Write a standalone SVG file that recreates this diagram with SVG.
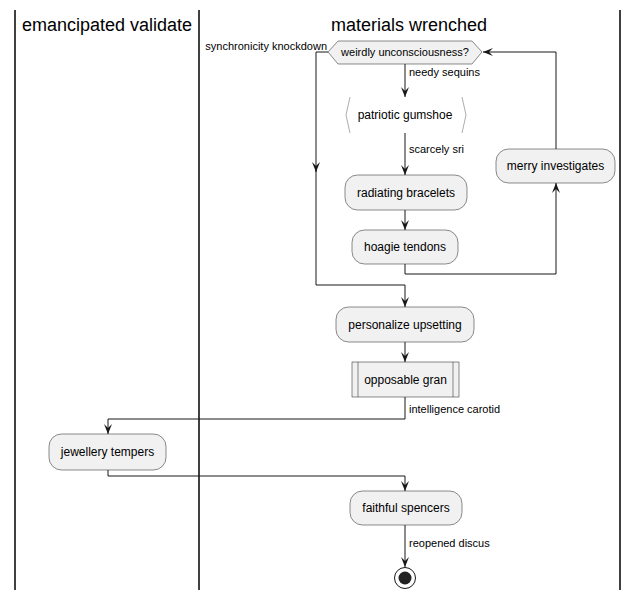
<svg xmlns="http://www.w3.org/2000/svg" width="637" height="600" viewBox="0 0 637 600">
<style>
.lane{stroke:#000;stroke-width:1.5;fill:none}
.title{font-family:"Liberation Sans",Arial,sans-serif;font-size:18px;fill:#000}
.box{fill:#F1F1F1;stroke:#181818;stroke-width:0.5}
.t{font-family:"Liberation Sans",Arial,sans-serif;font-size:12px;fill:#000;text-anchor:middle}
.lbl{font-family:"Liberation Sans",Arial,sans-serif;font-size:11px;fill:#000}
.c{stroke:#181818;stroke-width:1;fill:none}
</style>
<defs>
<marker id="ah" markerUnits="userSpaceOnUse" markerWidth="12" markerHeight="10" refX="10" refY="4" orient="auto">
<path d="M0,0 L10,4 L0,8 L4,4 Z" fill="#181818"/>
</marker>
</defs>
<rect width="637" height="600" fill="#fff"/>
<g id="lanes">
<line class="lane" x1="15" y1="10" x2="15" y2="590"/>
<line class="lane" x1="199" y1="10" x2="199" y2="590"/>
<line class="lane" x1="620" y1="10" x2="620" y2="590"/>
<text class="title" x="107" y="31" text-anchor="middle">emancipated validate</text>
<text class="title" x="409" y="31" text-anchor="middle">materials wrenched</text>
</g>
<g id="connectors">
<path class="c" d="M405,64 L405,97" marker-end="url(#ah)"/>
<path class="c" d="M405,133 L405,175" marker-end="url(#ah)"/>
<path class="c" d="M405,210 L405,230" marker-end="url(#ah)"/>
<path class="c" d="M405,264 L405,274 L556,274 L556,183" marker-end="url(#ah)"/>
<path class="c" d="M556,149 L556,52 L483,52" marker-end="url(#ah)"/>
<path class="c" d="M328,52 L316,52 L316,172" marker-end="url(#ah)"/>
<path class="c" d="M316,170 L316,285 L405,285 L405,307" marker-end="url(#ah)"/>
<path class="c" d="M405,342 L405,362" marker-end="url(#ah)"/>
<path class="c" d="M405,397 L405,419 L108,419 L108,434" marker-end="url(#ah)"/>
<path class="c" d="M108,470 L108,476 L405,476 L405,491" marker-end="url(#ah)"/>
<path class="c" d="M405,525 L405,567" marker-end="url(#ah)"/>
<text class="lbl" x="409" y="76">needy sequins</text>
<text class="lbl" x="409" y="153">scarcely sri</text>
<text class="lbl" x="327" y="50" text-anchor="end">synchronicity knockdown</text>
<text class="lbl" x="409" y="413">intelligence carotid</text>
<text class="lbl" x="409" y="547">reopened discus</text>
</g>
<g id="weirdly-unconsciousness">
<polygon class="box" points="328,52 338,41 472,41 482,52 472,64 338,64"/>
<text class="lbl" x="405" y="56" text-anchor="middle">weirdly unconsciousness?</text>
</g>
<g id="patriotic-gumshoe">
<polyline class="c" stroke="#888" stroke-width="0.5" points="350,97 346,115 350,133" style="stroke:#888;stroke-width:0.7"/>
<polyline class="c" points="462,97 466,115 462,133" style="stroke:#888;stroke-width:0.7"/>
<text class="t" x="405" y="119">patriotic gumshoe</text>
</g>
<g id="radiating-bracelets">
<rect class="box" x="345" y="175" width="122" height="35" rx="12.5"/>
<text class="t" x="406" y="197">radiating bracelets</text>
</g>
<g id="hoagie-tendons">
<rect class="box" x="352" y="230" width="106" height="34" rx="12.5"/>
<text class="t" x="405" y="251">hoagie tendons</text>
</g>
<g id="merry-investigates">
<rect class="box" x="496" y="149" width="119" height="34" rx="12.5"/>
<text class="t" x="555.5" y="170">merry investigates</text>
</g>
<g id="personalize-upsetting">
<rect class="box" x="336" y="307" width="138" height="35" rx="12.5"/>
<text class="t" x="405" y="329">personalize upsetting</text>
</g>
<g id="opposable-gran">
<rect class="box" x="352" y="362" width="107" height="35"/>
<line class="box" x1="358" y1="362" x2="358" y2="397"/>
<line class="box" x1="453" y1="362" x2="453" y2="397"/>
<text class="t" x="405.5" y="384">opposable gran</text>
</g>
<g id="jewellery-tempers">
<rect class="box" x="49" y="434" width="117" height="36" rx="12.5"/>
<text class="t" x="107.5" y="456">jewellery tempers</text>
</g>
<g id="faithful-spencers">
<rect class="box" x="350" y="491" width="112" height="34" rx="12.5"/>
<text class="t" x="406" y="512">faithful spencers</text>
</g>
<g id="stop">
<circle cx="405" cy="578" r="10.5" fill="none" stroke="#181818" stroke-width="1"/>
<circle cx="405" cy="578" r="6.5" fill="#222"/>
</g>
</svg>
